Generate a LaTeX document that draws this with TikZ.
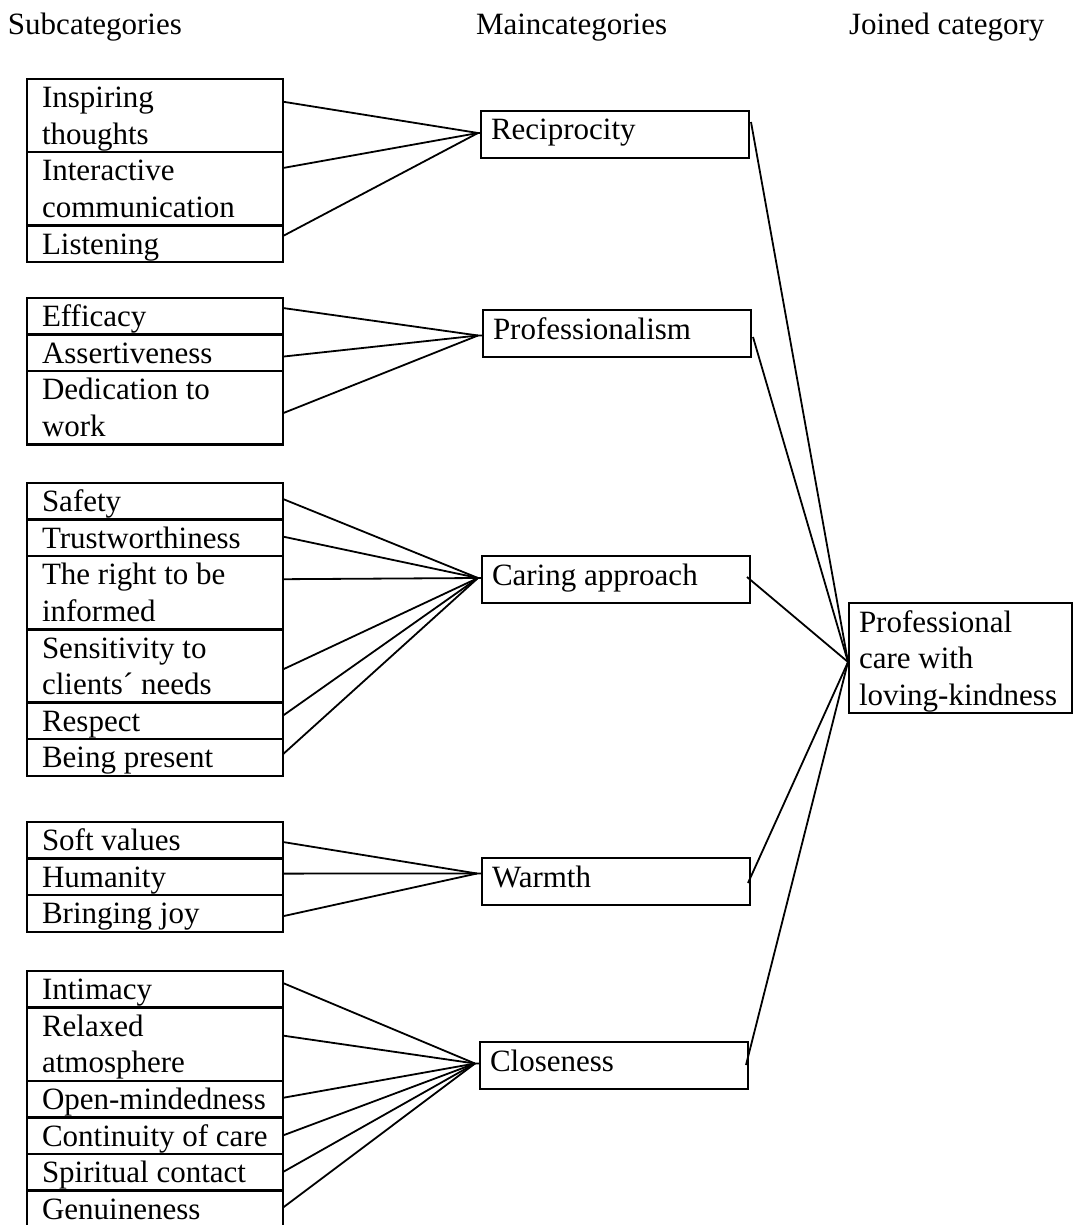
\documentclass[tikz,border=0pt]{standalone}
\usepackage{fontspec}
\setmainfont{Liberation Serif}
\protected\def\txtf{\fontsize{31}{36.6}\selectfont}
\newcommand\nsp{\spaceskip=0pt\xspaceskip=0pt\relax}
\newcommand\cl[1]{\rule[-8pt]{0pt}{36.6pt}\mbox{\nsp #1}}
\newcommand\ml[1]{\rule[-18pt]{0pt}{47pt}\mbox{\nsp #1}}
\newcommand\jl[1]{\rule[-7.6pt]{0pt}{36.6pt}\mbox{\nsp #1}}
\tikzset{
  txtfont/.style={font=\txtf},
  cell/.style={draw, line width=2.5pt, anchor=north west, inner xsep=15pt, inner ysep=0pt,
    outer sep=0pt, text width=226pt, align=left, txtfont},
  mainbox/.style={draw, line width=2.5pt, anchor=north west, inner xsep=10pt, inner ysep=0pt,
    outer sep=0pt, text width=248pt, align=left, txtfont},
  joinbox/.style={draw, line width=2.5pt, anchor=north west, inner xsep=10pt, inner ysep=0pt,
    outer sep=0pt, text width=203pt, align=left, txtfont},
  head/.style={anchor=base west, inner sep=0pt, outer sep=0pt, txtfont},
  link/.style={line width=1.8pt, line join=round},
}
\begin{document}
\begin{tikzpicture}[x=1pt, y=-1pt]
\clip (0,0) rectangle (1073,1225);
\fill[white] (0,0) rectangle (1073,1225);

% headers
\node[head] (hs) at (8,35) {Subcategories};
\node[head] (hm) at (476,35) {Maincategories};
\node[head] (hj) at (849,35) {Joined category};

% group 1
\node[cell] (a1) at (27,79) {\cl{Inspiring}\\\cl{thoughts}};
\node[cell] (a2) at (a1.south west) {\cl{Interactive}\\\cl{communication}};
\node[cell] (a3) at (a2.south west) {\cl{Listening}};

% group 2
\node[cell] (b1) at (27,298) {\cl{Efficacy}};
\node[cell] (b2) at (b1.south west) {\cl{Assertiveness}};
\node[cell] (b3) at (b2.south west) {\cl{Dedication to}\\\cl{work}};

% group 3
\node[cell] (c1) at (27,483) {\cl{Safety}};
\node[cell] (c2) at (c1.south west) {\cl{Trustworthiness}};
\node[cell] (c3) at (c2.south west) {\cl{The right to be}\\\cl{informed}};
\node[cell] (c4) at (c3.south west) {\cl{Sensitivity to}\\\cl{clients´ needs}};
\node[cell] (c5) at (c4.south west) {\cl{Respect}};
\node[cell] (c6) at (c5.south west) {\cl{Being present}};

% group 4
\node[cell] (d1) at (27,822) {\cl{Soft values}};
\node[cell] (d2) at (d1.south west) {\cl{Humanity}};
\node[cell] (d3) at (d2.south west) {\cl{Bringing joy}};

% group 5
\node[cell] (e1) at (27,971) {\cl{Intimacy}};
\node[cell] (e2) at (e1.south west) {\cl{Relaxed}\\\cl{atmosphere}};
\node[cell] (e3) at (e2.south west) {\cl{Open-mindedness}};
\node[cell] (e4) at (e3.south west) {\cl{Continuity of care}};
\node[cell] (e5) at (e4.south west) {\cl{Spiritual contact}};
\node[cell] (e6) at (e5.south west) {\cl{Genuineness}};

% main categories
\node[mainbox] (m1) at (481,111) {\ml{Reciprocity}};
\node[mainbox] (m2) at (483,310) {\ml{Professionalism}};
\node[mainbox] (m3) at (482,556) {\ml{Caring approach}};
\node[mainbox] (m4) at (482,858) {\ml{Warmth}};
\node[mainbox] (m5) at (480,1042) {\ml{Closeness}};

% joined category
\node[joinbox] (j) at (849,603) {\jl{Professional}\\\jl{care with}\\\jl{loving-kindness}};

% hubs
\coordinate (h1) at ([xshift=-3pt,yshift=1.5pt]m1.west);
\coordinate (h2) at ([xshift=-5pt,yshift=-2pt]m2.west);
\coordinate (h3) at ([xshift=-4pt,yshift=1.5pt]m3.west);
\coordinate (h4) at ([xshift=-5pt,yshift=8pt]m4.west);
\coordinate (h5) at ([xshift=-5pt,yshift=2pt]m5.west);
\coordinate (jh) at ([xshift=-1pt,yshift=-59pt]j.north west);

% links group 1
\draw[link] ([yshift=-22.7pt]a1.north east) -- (h1) -- ([yshift=1.5pt]m1.west);
\draw[link] ([yshift=-15.8pt]a2.north east) -- (h1);
\draw[link] ([yshift=-10.6pt]a3.north east) -- (h1);

% links group 2
\draw[link] ([yshift=-10pt]b1.north east) -- (h2) -- ([yshift=-2pt]m2.west);
\draw[link] ([yshift=-22pt]b2.north east) -- (h2);
\draw[link] ([yshift=-42pt]b3.north east) -- (h2);

% links group 3
\draw[link] ([yshift=-16pt]c1.north east) -- (h3) -- ([yshift=1.5pt]m3.west);
\draw[link] ([yshift=-17pt]c2.north east) -- (h3);
\draw[link] ([yshift=-23pt]c3.north east) -- (h3);
\draw[link] ([yshift=-40pt]c4.north east) -- (h3);
\draw[link] ([yshift=-13pt]c5.north east) -- (h3);
\draw[link] ([yshift=-15pt]c6.north east) -- (h3);

% links group 4
\draw[link] ([yshift=-20pt]d1.north east) -- (h4) -- ([yshift=8pt]m4.west);
\draw[link] ([yshift=-15pt]d2.north east) -- (h4);
\draw[link] ([yshift=-21pt]d3.north east) -- (h4);

% links group 5
\draw[link] ([yshift=-12pt]e1.north east) -- (h5) -- ([yshift=2pt]m5.west);
\draw[link] ([yshift=-28pt]e2.north east) -- (h5);
\draw[link] ([yshift=-17pt]e3.north east) -- (h5);
\draw[link] ([yshift=-18pt]e4.north east) -- (h5);
\draw[link] ([yshift=-18pt]e5.north east) -- (h5);
\draw[link] ([yshift=-17pt]e6.north east) -- (h5);

% links to joined category
\draw[link] ([xshift=2pt,yshift=-11pt]m1.north east) -- (jh);
\draw[link] ([xshift=2pt,yshift=-27pt]m2.north east) -- (jh);
\draw[link] ([xshift=-3pt,yshift=-21pt]m3.north east) -- (jh);
\draw[link] ([xshift=-2pt,yshift=-25pt]m4.north east) -- (jh);
\draw[link] ([xshift=-2pt,yshift=-23pt]m5.north east) -- (jh);
\end{tikzpicture}
\end{document}
